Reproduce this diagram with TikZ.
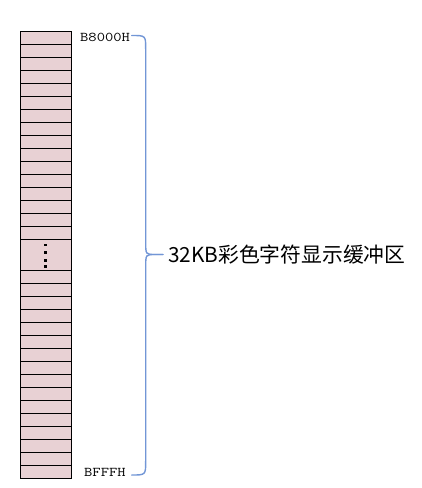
\documentclass[tikz,border=0pt]{standalone}
\usepackage{fontspec}
\newfontfamily\cjk{Noto Sans CJK SC}
\definecolor{cellpink}{RGB}{232,209,212}
\definecolor{braceblue}{RGB}{114,150,214}
\begin{document}
\begin{tikzpicture}[x=1pt,y=-1pt,
  cell/.style={draw=black,line width=1pt,fill=cellpink},
  addr/.style={font=\fontsize{13.4}{13.4}\selectfont\ttfamily,anchor=west,inner sep=0pt},
  bracel/.style={draw=braceblue,line width=1.4pt,line cap=round}]
\useasboundingbox (0,0) rectangle (422,488);
\def\rh{13.02}
\foreach \i in {0,...,15} {
  \draw[cell] (20,31+\i*\rh) rectangle (71,31+\i*\rh+\rh);
  \draw[cell] (20,270.3+\i*\rh) rectangle (71,270.3+\i*\rh+\rh);
}
\draw[cell] (20,239.3) rectangle (71,270.3);
\foreach \y in {245,252.4,260.3,266.3}
  \fill (44.3,\y-1.3) rectangle (46.5,\y+1.3);
\node[addr] (top) at (80,37) {\scalebox{1.2}[1]{B8000H}};
\node[addr] (bot) at (84,472.7) {\scalebox{1.2}[1]{BFFFH}};
\node[anchor=west,inner sep=0pt,font=\cjk\fontsize{20.8}{20.8}\selectfont] (lbl) at (168,254.5) {32KB彩色字符显示缓冲区};
\coordinate (btop) at (131.7,35.5);
\coordinate (bbot) at (131.7,475);
\coordinate (btip) at (163,254.5);
\draw[bracel] (btop) .. controls (145.7,35.5) .. (145.7,49) -- (145.7,242) .. controls (145.7,254.5) .. (155,254.5) -- (btip);
\draw[bracel] (btip) -- (155,254.5) .. controls (145.7,254.5) .. (145.7,267) -- (145.7,461) .. controls (145.7,475) .. (bbot);
\end{tikzpicture}
\end{document}
